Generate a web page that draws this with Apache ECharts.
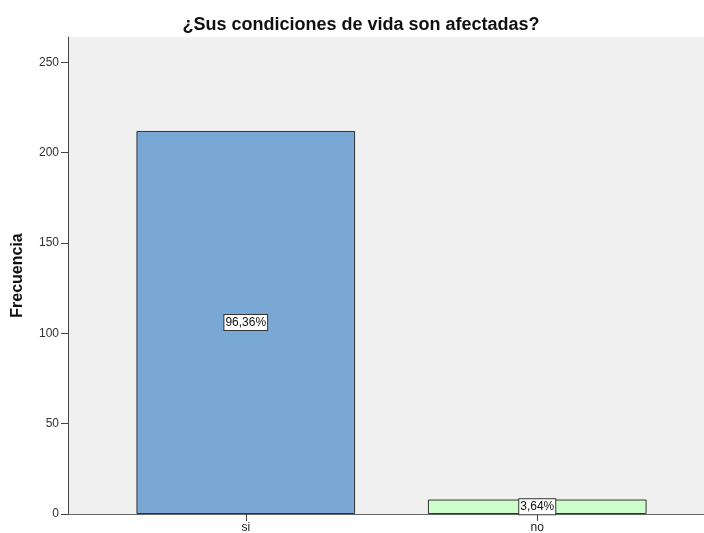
<!DOCTYPE html>
<html>
<head>
<meta charset="utf-8">
<script src="https://cdn.jsdelivr.net/npm/echarts@6/dist/echarts.min.js"></script>
<style>
  html, body { margin: 0; padding: 0; background: #fff; }
  #chart { width: 704px; height: 533px; }
</style>
</head>
<body>
<div id="chart"></div>
<script>
  // datos
  var categories = ['si', 'no']
  var counts = [212, 8]
  var percents = ['96,36%', '3,64%']
  var barColors = ['#7aa8d5', '#ccffcc']
  var yTicks = [0, 50, 100, 150, 200, 250]

  var chart = echarts.init(document.getElementById('chart'))
  var font = 'Arial, "Liberation Sans", sans-serif'

  chart.setOption({
    backgroundColor: '#fff',
    animation: false,
    title: {
      text: '¿Sus condiciones de vida son afectadas?',
      left: 356,
      top: 11,
      textAlign: 'center',
      textStyle: {fontFamily: font, fontSize: 18, fontWeight: 'bold', color: '#111'}
    },
    grid: [
      {left: 68, right: 0, top: 37, bottom: 19, show: true, backgroundColor: '#f0f0f0', borderWidth: 0,
        outerBoundsMode: 'none', containLabel: false},
      {left: 100, right: 21, top: 37, bottom: 19, outerBoundsMode: 'none', containLabel: false}
    ],
    xAxis: [
      {
        gridIndex: 0, type: 'value', min: 0, max: 1,
        axisLine: {show: true, onZero: false, lineStyle: {color: '#444', width: 1}},
        axisTick: {show: false}, axisLabel: {show: false}, splitLine: {show: false}
      },
      {
        gridIndex: 0, type: 'value', min: 0, max: 1, position: 'top',
        axisLine: {show: true, lineStyle: {color: '#666', width: 1}},
        axisTick: {show: false}, axisLabel: {show: false}, splitLine: {show: false}
      },
      {
        gridIndex: 1, type: 'category', data: categories,
        axisLine: {show: false},
        axisTick: {show: true, alignWithLabel: true, length: 7, lineStyle: {color: '#444'}},
        axisLabel: {fontFamily: font, fontSize: 12, color: '#222', margin: 8}
      }
    ],
    yAxis: [
      {
        gridIndex: 0, type: 'value', min: 0, max: 264,
        name: 'Frecuencia', nameLocation: 'middle', nameGap: 42, nameRotate: 90,
        nameTextStyle: {fontFamily: font, fontSize: 16, fontWeight: 'bold', color: '#111'},
        axisLine: {show: true, lineStyle: {color: '#444', width: 1}},
        axisTick: {show: true, length: 7, customValues: yTicks, lineStyle: {color: '#444'}},
        axisLabel: {fontFamily: font, fontSize: 12, color: '#333', margin: 9, customValues: yTicks},
        splitLine: {show: false}
      },
      {
        gridIndex: 1, type: 'value', min: 0, max: 264,
        axisLine: {show: false}, axisTick: {show: false}, axisLabel: {show: false}, splitLine: {show: false}
      }
    ],
    series: [{
      type: 'bar',
      xAxisIndex: 2,
      yAxisIndex: 1,
      barWidth: '75%',
      data: counts.map(function (c, i) {
        return {value: c, itemStyle: {color: barColors[i]}}
      }),
      itemStyle: {borderColor: '#333', borderWidth: 1},
      label: {
        show: true,
        position: 'inside',
        formatter: function (p) { return percents[p.dataIndex] },
        fontFamily: font, fontSize: 12, color: '#111',
        backgroundColor: '#fff', borderColor: '#333', borderWidth: 1,
        padding: [2, 1, 1, 1]
      }
    }]
  })
</script>
</body>
</html>
